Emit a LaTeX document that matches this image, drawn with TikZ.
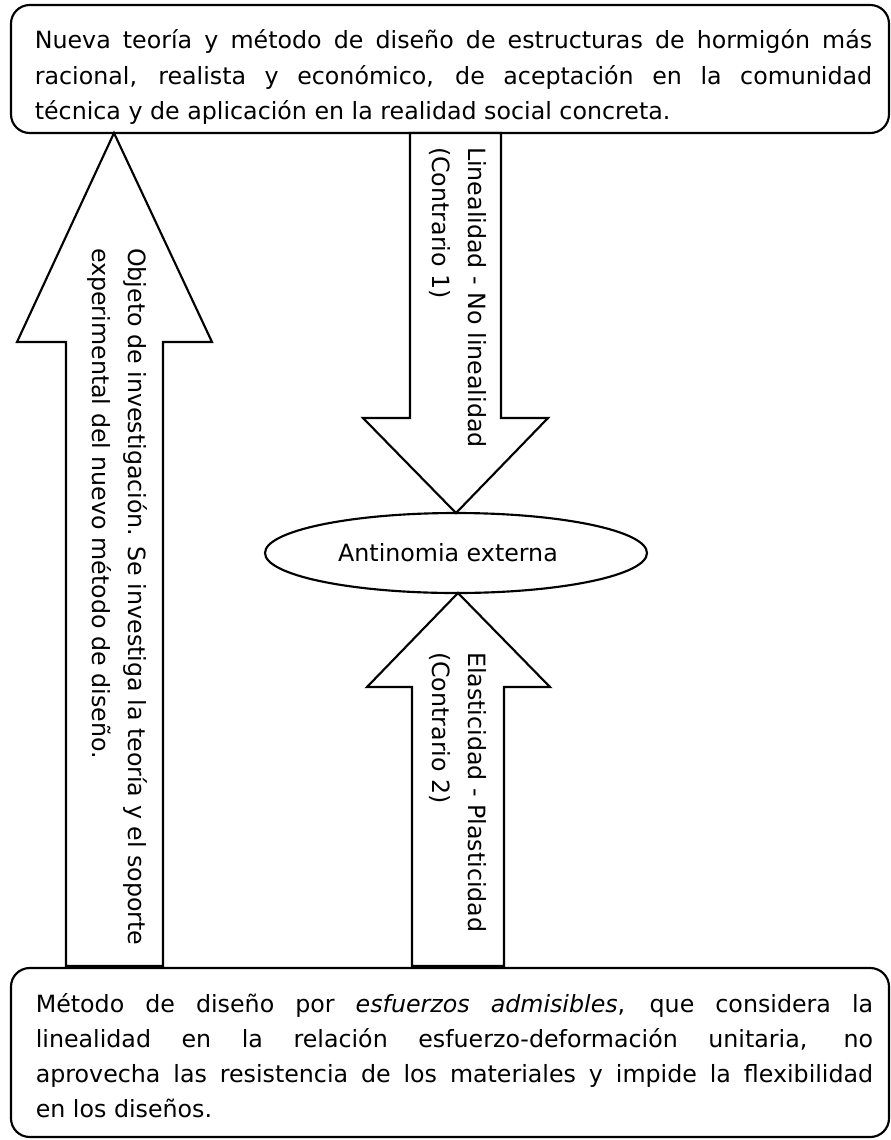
\documentclass[tikz,border=0pt]{standalone}
\usepackage{fontspec}
\setmainfont{DejaVu Sans}[ItalicFont={DejaVu Sans Oblique}]
\usetikzlibrary{shapes.geometric}

\tikzset{
	caja/.style={draw, rounded corners=14pt, minimum width=658.5pt, inner sep=0pt},
	texto/.style={text width=628pt, align=justify, inner sep=0pt,
		font=\fontsize{17.8pt}{26.3pt}\selectfont},
	lado/.style={rotate=-90, anchor=north west, align=left, inner sep=0pt,
		font=\fontsize{17.8pt}{27.5pt}\selectfont},
	flecha/.style={draw, fill=white, line join=miter}
}

\begin{document}
\begin{tikzpicture}[x=0.75pt, y=-0.75pt, line width=1.6pt]
	\useasboundingbox (0,0) rectangle (891,1140);

	% Boxes
	\node[caja, minimum height=96pt] (arriba) at (450, 69) {};
	\node[caja, minimum height=126.75pt] (abajo) at (450, 1052.5) {};

	% Block arrows
	\draw[flecha] (66,966) -- (66,342) -- (17,342) -- (114,133) -- (212,342) -- (163,342) -- (163,966) -- cycle;
	\draw[flecha] (410,133) -- (410,418) -- (363,418) -- (456,513) -- (548,418) -- (501,418) -- (501,133) -- cycle;
	\draw[flecha] (412,966) -- (412,687) -- (367,687) -- (458,593) -- (550,687) -- (504,687) -- (504,966) -- cycle;

	\node[draw, ellipse, minimum width=286.5pt, minimum height=60pt, inner sep=0pt] (antinomia) at (456, 553) {};
	\node[font=\fontsize{17.8pt}{26.3pt}\selectfont, inner sep=0pt] (antinomiatxt) at (448, 553) {Antinomia externa};

	% Texts
	\node[texto] (nueva) at (453.5, 77) {Nueva teoría y método de diseño de estructuras de hormigón más\linebreak
		racional, realista y económico, de aceptación en la comunidad\linebreak
		técnica y de aplicación en la realidad social concreta.};
	\node[texto] (metodo) at (454.5, 1056) {Método de diseño por \emph{esfuerzos admisibles}, que considera la\linebreak
		linealidad en la relación esfuerzo-deformación unitaria, no\linebreak
		aprovecha las resistencia de los materiales y impide la flexibilidad\linebreak
		en los diseños.};

	\node[lado] (objeto) at (149, 247) {Objeto de investigación. Se investiga la teoría y el soporte\\experimental del nuevo método de diseño.};
	\node[lado] (contrario1) at (488, 146) {Linealidad - No linealidad\\(Contrario 1)};
	\node[lado] (contrario2) at (488, 651) {Elasticidad - Plasticidad\\(Contrario 2)};
\end{tikzpicture}
\end{document}
